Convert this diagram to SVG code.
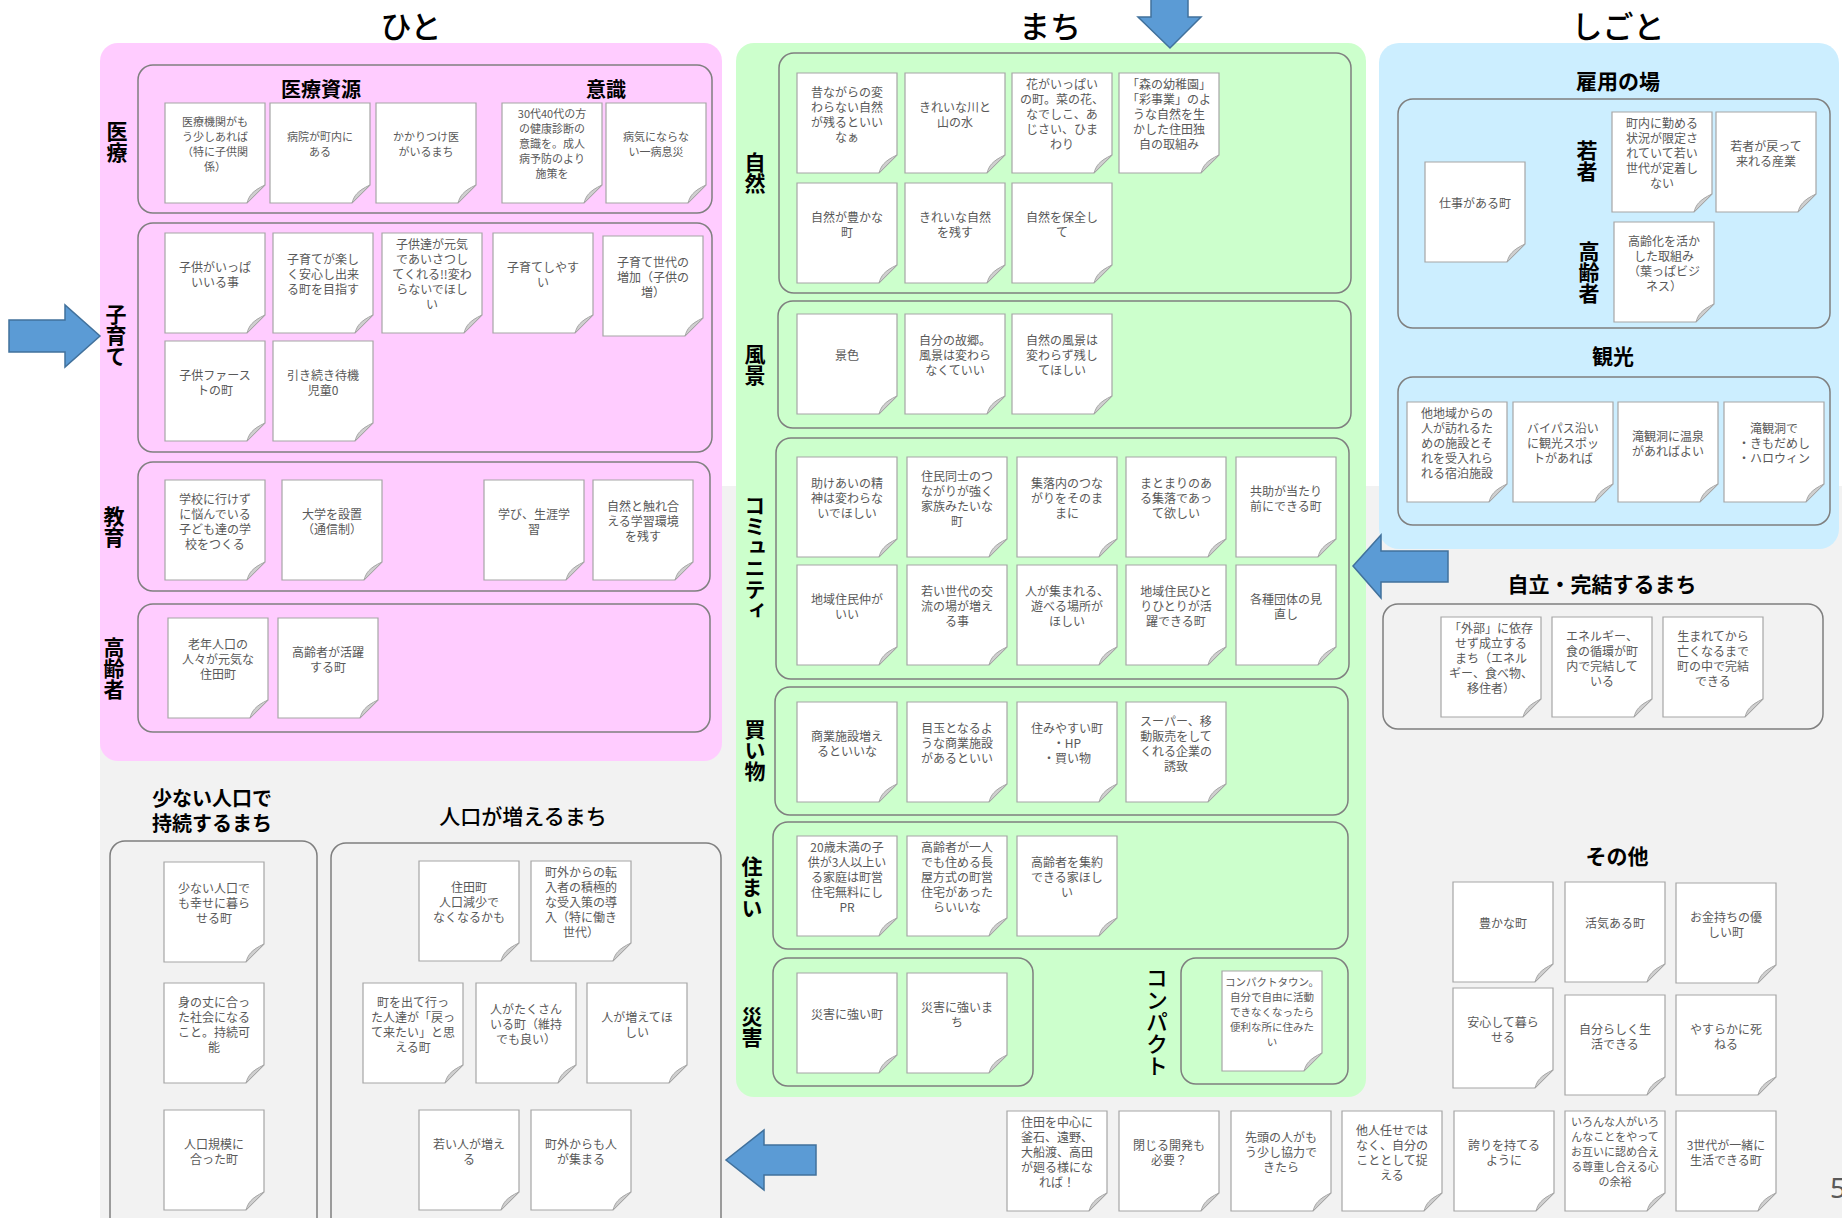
<svg xmlns="http://www.w3.org/2000/svg" width="1842" height="1218" viewBox="0 0 1842 1218">
<style>
.cb{fill:#fff;stroke:#a6a6a6;stroke-width:1.2}
.cf{fill:#cfcfcf;stroke:#a6a6a6;stroke-width:1}
.ct{font-family:"Noto Sans CJK JP","Noto Sans",sans-serif;font-size:12px;fill:#595959;text-anchor:middle;dominant-baseline:central}
.s11{font-size:11px}
.s10{font-size:10.5px}
.box{fill:none;stroke:#7f7f7f;stroke-width:1.5}
.lbl{font-family:"Noto Sans CJK JP","Noto Sans",sans-serif;font-weight:bold;font-size:21px;fill:#000;text-anchor:middle;dominant-baseline:central}
.vl{writing-mode:vertical-rl}
.ttl{font-family:"Noto Sans CJK JP","Noto Sans",sans-serif;font-size:31px;font-weight:500;fill:#000;text-anchor:middle;dominant-baseline:central}
.arr{fill:#5b9bd5;stroke:#41719c;stroke-width:1.5}
</style>
<defs>
<g id="card"><path class="cb" d="M0,0H100V82L82,100H0Z"/><path class="cf" d="M100,82L82,100C84,93 87,88 100,82Z"/></g>
</defs>
<rect width="1842" height="1218" fill="#fff"/>
<rect x="100" y="486" width="1742" height="732" fill="#f2f2f2"/>
<rect x="100" y="43" width="622" height="718" rx="18" fill="#ffccff"/>
<rect x="736" y="43" width="630" height="1054" rx="18" fill="#ccffcc"/>
<rect x="1379" y="43" width="460" height="506" rx="20" fill="#cceeff"/>

<text class="ttl" x="411" y="24">ひと</text>
<text class="ttl" x="1050" y="24">まち</text>
<text class="ttl" x="1618" y="24">しごと</text>

<g id="containers">
<rect class="box" x="138" y="65" width="574" height="148" rx="15"/>
<rect class="box" x="138" y="223" width="574" height="229" rx="15"/>
<rect class="box" x="138" y="462" width="572" height="129" rx="15"/>
<rect class="box" x="138" y="604" width="572" height="128" rx="15"/>
<rect class="box" x="779" y="53" width="572" height="240" rx="15"/>
<rect class="box" x="778" y="301" width="573" height="127" rx="15"/>
<rect class="box" x="776" y="438" width="573" height="241" rx="15"/>
<rect class="box" x="775" y="687" width="573" height="128" rx="15"/>
<rect class="box" x="773" y="822" width="575" height="127" rx="15"/>
<rect class="box" x="773" y="958" width="260" height="128" rx="15"/>
<rect class="box" x="1181" y="958" width="167" height="126" rx="15"/>
<rect class="box" x="1398" y="99" width="432" height="229" rx="15"/>
<rect class="box" x="1398" y="377" width="432" height="148" rx="15"/>
<rect class="box" x="1383" y="604" width="440" height="125" rx="15"/>
<rect class="box" x="110" y="841" width="207" height="420" rx="15"/>
<rect class="box" x="331" y="843" width="390" height="420" rx="15"/>
</g>

<g id="labels">
<text class="lbl" x="321" y="88" style="font-size:20px">医療資源</text>
<text class="lbl" x="606" y="88" style="font-size:20px">意識</text>
<text class="lbl vl" x="117" y="142">医療</text>
<text class="lbl vl" x="116" y="335">子育て</text>
<text class="lbl vl" x="114" y="527">教育</text>
<text class="lbl vl" x="114" y="668">高齢者</text>
<text class="lbl vl" x="755" y="173">自然</text>
<text class="lbl vl" x="755" y="365">風景</text>
<text class="lbl vl" x="755" y="558">コミュニティ</text>
<text class="lbl vl" x="755" y="750">買い物</text>
<text class="lbl vl" x="752" y="887">住まい</text>
<text class="lbl vl" x="752" y="1027">災害</text>
<text class="lbl vl" x="1157" y="1022" style="font-weight:500;font-size:22px">コンパクト</text>
<text class="lbl" x="1618" y="80">雇用の場</text>
<text class="lbl vl" x="1587" y="161">若者</text>
<text class="lbl vl" x="1589" y="272">高齢者</text>
<text class="lbl" x="1613" y="355">観光</text>
<text class="lbl" x="1602" y="583">自立・完結するまち</text>
<text class="lbl" x="1617" y="855">その他</text>
<text class="lbl" y="797" style="font-size:20px"><tspan x="212">少ない人口で</tspan><tspan x="212" dy="25">持続するまち</tspan></text>
<text class="lbl" x="523" y="815" style="font-weight:500">人口が増えるまち</text>
</g>

<g id="connectors">
<path class="arr" d="M9,320H65V305L100,336L65,367V352H9Z"/>
<path class="arr" d="M1151,-2H1188V17H1201L1170,48L1138,17H1151Z"/>
<path class="arr" d="M1448,551H1381V535L1353,566L1381,598V582H1448Z"/>
<path class="arr" d="M816,1145H764V1130L726,1160L764,1190V1175H816Z"/>
</g>

<!-- 医療 -->
<g id="n-iryo1"><use href="#card" x="165" y="103"/><text class="ct s11" y="120.5"><tspan x="215">医療機関がも</tspan><tspan x="215" dy="15">う少しあれば</tspan><tspan x="215" dy="15">（特に子供関</tspan><tspan x="215" dy="15">係）</tspan></text></g>
<g id="n-iryo2"><use href="#card" x="270" y="103"/><text class="ct s11" y="135.5"><tspan x="320">病院が町内に</tspan><tspan x="320" dy="15">ある</tspan></text></g>
<g id="n-iryo3"><use href="#card" x="376" y="103"/><text class="ct s11" y="135.5"><tspan x="426">かかりつけ医</tspan><tspan x="426" dy="15">がいるまち</tspan></text></g>
<g id="n-iryo4"><use href="#card" x="502" y="103"/><text class="ct s11" y="113"><tspan x="552">30代40代の方</tspan><tspan x="552" dy="15">の健康診断の</tspan><tspan x="552" dy="15">意識を。成人</tspan><tspan x="552" dy="15">病予防のより</tspan><tspan x="552" dy="15">施策を</tspan></text></g>
<g id="n-iryo5"><use href="#card" x="606" y="103"/><text class="ct s11" y="135.5"><tspan x="656">病気にならな</tspan><tspan x="656" dy="15">い一病息災</tspan></text></g>

<!-- 子育て -->
<g id="n-ko1"><use href="#card" x="165" y="233"/><text class="ct" y="265.5"><tspan x="215">子供がいっぱ</tspan><tspan x="215" dy="15">いいる事</tspan></text></g>
<g id="n-ko2"><use href="#card" x="273" y="233"/><text class="ct" y="258"><tspan x="323">子育てが楽し</tspan><tspan x="323" dy="15">く安心し出来</tspan><tspan x="323" dy="15">る町を目指す</tspan></text></g>
<g id="n-ko3"><use href="#card" x="382" y="233"/><text class="ct" y="243"><tspan x="432">子供達が元気</tspan><tspan x="432" dy="15">であいさつし</tspan><tspan x="432" dy="15">てくれる!!変わ</tspan><tspan x="432" dy="15">らないでほし</tspan><tspan x="432" dy="15">い</tspan></text></g>
<g id="n-ko4"><use href="#card" x="493" y="233"/><text class="ct" y="265.5"><tspan x="543">子育てしやす</tspan><tspan x="543" dy="15">い</tspan></text></g>
<g id="n-ko5"><use href="#card" x="603" y="236"/><text class="ct" y="261"><tspan x="653">子育て世代の</tspan><tspan x="653" dy="15">増加（子供の</tspan><tspan x="653" dy="15">増）</tspan></text></g>
<g id="n-ko6"><use href="#card" x="165" y="341"/><text class="ct" y="373.5"><tspan x="215">子供ファース</tspan><tspan x="215" dy="15">トの町</tspan></text></g>
<g id="n-ko7"><use href="#card" x="273" y="341"/><text class="ct" y="373.5"><tspan x="323">引き続き待機</tspan><tspan x="323" dy="15">児童0</tspan></text></g>

<!-- 教育 -->
<g id="n-ed1"><use href="#card" x="165" y="480"/><text class="ct" y="497.5"><tspan x="215">学校に行けず</tspan><tspan x="215" dy="15">に悩んでいる</tspan><tspan x="215" dy="15">子ども達の学</tspan><tspan x="215" dy="15">校をつくる</tspan></text></g>
<g id="n-ed2"><use href="#card" x="282" y="480"/><text class="ct" y="512.5"><tspan x="332">大学を設置</tspan><tspan x="332" dy="15">（通信制）</tspan></text></g>
<g id="n-ed3"><use href="#card" x="484" y="480"/><text class="ct" y="512.5"><tspan x="534">学び、生涯学</tspan><tspan x="534" dy="15">習</tspan></text></g>
<g id="n-ed4"><use href="#card" x="593" y="480"/><text class="ct" y="505"><tspan x="643">自然と触れ合</tspan><tspan x="643" dy="15">える学習環境</tspan><tspan x="643" dy="15">を残す</tspan></text></g>

<!-- 高齢者 -->
<g id="n-ko-rei1"><use href="#card" x="168" y="618"/><text class="ct" y="643"><tspan x="218">老年人口の</tspan><tspan x="218" dy="15">人々が元気な</tspan><tspan x="218" dy="15">住田町</tspan></text></g>
<g id="n-ko-rei2"><use href="#card" x="278" y="618"/><text class="ct" y="650.5"><tspan x="328">高齢者が活躍</tspan><tspan x="328" dy="15">する町</tspan></text></g>

<!-- 自然 -->
<g id="n-sh1"><use href="#card" x="797" y="73"/><text class="ct" y="90.5"><tspan x="847">昔ながらの変</tspan><tspan x="847" dy="15">わらない自然</tspan><tspan x="847" dy="15">が残るといい</tspan><tspan x="847" dy="15">なぁ</tspan></text></g>
<g id="n-sh2"><use href="#card" x="905" y="73"/><text class="ct" y="105.5"><tspan x="955">きれいな川と</tspan><tspan x="955" dy="15">山の水</tspan></text></g>
<g id="n-sh3"><use href="#card" x="1012" y="73"/><text class="ct" y="83"><tspan x="1062">花がいっぱい</tspan><tspan x="1062" dy="15">の町。菜の花、</tspan><tspan x="1062" dy="15">なでしこ、あ</tspan><tspan x="1062" dy="15">じさい、ひま</tspan><tspan x="1062" dy="15">わり</tspan></text></g>
<g id="n-sh4"><use href="#card" x="1119" y="73"/><text class="ct" y="83"><tspan x="1169">「森の幼稚園」</tspan><tspan x="1169" dy="15">「彩事業」のよ</tspan><tspan x="1169" dy="15">うな自然を生</tspan><tspan x="1169" dy="15">かした住田独</tspan><tspan x="1169" dy="15">自の取組み</tspan></text></g>
<g id="n-sh5"><use href="#card" x="797" y="183"/><text class="ct" y="215.5"><tspan x="847">自然が豊かな</tspan><tspan x="847" dy="15">町</tspan></text></g>
<g id="n-sh6"><use href="#card" x="905" y="183"/><text class="ct" y="215.5"><tspan x="955">きれいな自然</tspan><tspan x="955" dy="15">を残す</tspan></text></g>
<g id="n-sh7"><use href="#card" x="1012" y="183"/><text class="ct" y="215.5"><tspan x="1062">自然を保全し</tspan><tspan x="1062" dy="15">て</tspan></text></g>

<!-- 風景 -->
<g id="n-fu1"><use href="#card" x="797" y="314"/><text class="ct" x="847" y="354">景色</text></g>
<g id="n-fu2"><use href="#card" x="905" y="314"/><text class="ct" y="339"><tspan x="955">自分の故郷。</tspan><tspan x="955" dy="15">風景は変わら</tspan><tspan x="955" dy="15">なくていい</tspan></text></g>
<g id="n-fu3"><use href="#card" x="1012" y="314"/><text class="ct" y="339"><tspan x="1062">自然の風景は</tspan><tspan x="1062" dy="15">変わらず残し</tspan><tspan x="1062" dy="15">てほしい</tspan></text></g>

<!-- コミュニティ -->
<g id="n-cm1"><use href="#card" x="797" y="457"/><text class="ct" y="482"><tspan x="847">助けあいの精</tspan><tspan x="847" dy="15">神は変わらな</tspan><tspan x="847" dy="15">いでほしい</tspan></text></g>
<g id="n-cm2"><use href="#card" x="907" y="457"/><text class="ct" y="474.5"><tspan x="957">住民同士のつ</tspan><tspan x="957" dy="15">ながりが強く</tspan><tspan x="957" dy="15">家族みたいな</tspan><tspan x="957" dy="15">町</tspan></text></g>
<g id="n-cm3"><use href="#card" x="1017" y="457"/><text class="ct" y="482"><tspan x="1067">集落内のつな</tspan><tspan x="1067" dy="15">がりをそのま</tspan><tspan x="1067" dy="15">まに</tspan></text></g>
<g id="n-cm4"><use href="#card" x="1126" y="457"/><text class="ct" y="482"><tspan x="1176">まとまりのあ</tspan><tspan x="1176" dy="15">る集落であっ</tspan><tspan x="1176" dy="15">て欲しい</tspan></text></g>
<g id="n-cm5"><use href="#card" x="1236" y="457"/><text class="ct" y="489.5"><tspan x="1286">共助が当たり</tspan><tspan x="1286" dy="15">前にできる町</tspan></text></g>
<g id="n-cm6"><use href="#card" x="797" y="565"/><text class="ct" y="597.5"><tspan x="847">地域住民仲が</tspan><tspan x="847" dy="15">いい</tspan></text></g>
<g id="n-cm7"><use href="#card" x="907" y="565"/><text class="ct" y="590"><tspan x="957">若い世代の交</tspan><tspan x="957" dy="15">流の場が増え</tspan><tspan x="957" dy="15">る事</tspan></text></g>
<g id="n-cm8"><use href="#card" x="1017" y="565"/><text class="ct" y="590"><tspan x="1067">人が集まれる、</tspan><tspan x="1067" dy="15">遊べる場所が</tspan><tspan x="1067" dy="15">ほしい</tspan></text></g>
<g id="n-cm9"><use href="#card" x="1126" y="565"/><text class="ct" y="590"><tspan x="1176">地域住民ひと</tspan><tspan x="1176" dy="15">りひとりが活</tspan><tspan x="1176" dy="15">躍できる町</tspan></text></g>
<g id="n-cm10"><use href="#card" x="1236" y="565"/><text class="ct" y="597.5"><tspan x="1286">各種団体の見</tspan><tspan x="1286" dy="15">直し</tspan></text></g>

<!-- 買い物 -->
<g id="n-ka1"><use href="#card" x="797" y="702"/><text class="ct" y="734.5"><tspan x="847">商業施設増え</tspan><tspan x="847" dy="15">るといいな</tspan></text></g>
<g id="n-ka2"><use href="#card" x="907" y="702"/><text class="ct" y="727"><tspan x="957">目玉となるよ</tspan><tspan x="957" dy="15">うな商業施設</tspan><tspan x="957" dy="15">があるといい</tspan></text></g>
<g id="n-ka3"><use href="#card" x="1017" y="702"/><text class="ct" y="727"><tspan x="1067">住みやすい町</tspan><tspan x="1067" dy="15">・HP</tspan><tspan x="1067" dy="15">・買い物</tspan></text></g>
<g id="n-ka4"><use href="#card" x="1126" y="702"/><text class="ct" y="719.5"><tspan x="1176">スーパー、移</tspan><tspan x="1176" dy="15">動販売をして</tspan><tspan x="1176" dy="15">くれる企業の</tspan><tspan x="1176" dy="15">誘致</tspan></text></g>

<!-- 住まい -->
<g id="n-su1"><use href="#card" x="797" y="836"/><text class="ct" y="846"><tspan x="847">20歳未満の子</tspan><tspan x="847" dy="15">供が3人以上い</tspan><tspan x="847" dy="15">る家庭は町営</tspan><tspan x="847" dy="15">住宅無料にし</tspan><tspan x="847" dy="15">PR</tspan></text></g>
<g id="n-su2"><use href="#card" x="907" y="836"/><text class="ct" y="846"><tspan x="957">高齢者が一人</tspan><tspan x="957" dy="15">でも住める長</tspan><tspan x="957" dy="15">屋方式の町営</tspan><tspan x="957" dy="15">住宅があった</tspan><tspan x="957" dy="15">らいいな</tspan></text></g>
<g id="n-su3"><use href="#card" x="1017" y="836"/><text class="ct" y="861"><tspan x="1067">高齢者を集約</tspan><tspan x="1067" dy="15">できる家ほし</tspan><tspan x="1067" dy="15">い</tspan></text></g>

<!-- 災害 / コンパクト -->
<g id="n-sa1"><use href="#card" x="797" y="973"/><text class="ct" x="847" y="1013">災害に強い町</text></g>
<g id="n-sa2"><use href="#card" x="907" y="973"/><text class="ct" y="1005.5"><tspan x="957">災害に強いま</tspan><tspan x="957" dy="15">ち</tspan></text></g>
<g id="n-cp1"><use href="#card" x="1222" y="971"/><text class="ct s10" y="981"><tspan x="1272">コンパクトタウン。</tspan><tspan x="1272" dy="15">自分で自由に活動</tspan><tspan x="1272" dy="15">できなくなったら</tspan><tspan x="1272" dy="15">便利な所に住みた</tspan><tspan x="1272" dy="15">い</tspan></text></g>

<!-- 雇用の場 -->
<g id="n-ko-yo1"><use href="#card" x="1425" y="162"/><text class="ct" x="1475" y="202">仕事がある町</text></g>
<g id="n-ko-yo2"><use href="#card" x="1612" y="112"/><text class="ct" y="122"><tspan x="1662">町内に勤める</tspan><tspan x="1662" dy="15">状況が限定さ</tspan><tspan x="1662" dy="15">れていて若い</tspan><tspan x="1662" dy="15">世代が定着し</tspan><tspan x="1662" dy="15">ない</tspan></text></g>
<g id="n-ko-yo3"><use href="#card" x="1716" y="112"/><text class="ct" y="144.5"><tspan x="1766">若者が戻って</tspan><tspan x="1766" dy="15">来れる産業</tspan></text></g>
<g id="n-ko-yo4"><use href="#card" x="1614" y="222"/><text class="ct" y="239.5"><tspan x="1664">高齢化を活か</tspan><tspan x="1664" dy="15">した取組み</tspan><tspan x="1664" dy="15">（葉っぱビジ</tspan><tspan x="1664" dy="15">ネス）</tspan></text></g>

<!-- 観光 -->
<g id="n-kk1"><use href="#card" x="1407" y="402"/><text class="ct" y="412"><tspan x="1457">他地域からの</tspan><tspan x="1457" dy="15">人が訪れるた</tspan><tspan x="1457" dy="15">めの施設とそ</tspan><tspan x="1457" dy="15">れを受入れら</tspan><tspan x="1457" dy="15">れる宿泊施設</tspan></text></g>
<g id="n-kk2"><use href="#card" x="1513" y="402"/><text class="ct" y="427"><tspan x="1563">バイパス沿い</tspan><tspan x="1563" dy="15">に観光スポッ</tspan><tspan x="1563" dy="15">トがあれば</tspan></text></g>
<g id="n-kk3"><use href="#card" x="1618" y="402"/><text class="ct" y="434.5"><tspan x="1668">滝観洞に温泉</tspan><tspan x="1668" dy="15">があればよい</tspan></text></g>
<g id="n-kk4"><use href="#card" x="1724" y="402"/><text class="ct" y="427"><tspan x="1774">滝観洞で</tspan><tspan x="1774" dy="15">・きもだめし</tspan><tspan x="1774" dy="15">・ハロウィン</tspan></text></g>

<!-- 自立・完結 -->
<g id="n-ji1"><use href="#card" x="1441" y="617"/><text class="ct" y="627"><tspan x="1491">「外部」に依存</tspan><tspan x="1491" dy="15">せず成立する</tspan><tspan x="1491" dy="15">まち（エネル</tspan><tspan x="1491" dy="15">ギー、食べ物、</tspan><tspan x="1491" dy="15">移住者）</tspan></text></g>
<g id="n-ji2"><use href="#card" x="1552" y="617"/><text class="ct" y="634.5"><tspan x="1602">エネルギー、</tspan><tspan x="1602" dy="15">食の循環が町</tspan><tspan x="1602" dy="15">内で完結して</tspan><tspan x="1602" dy="15">いる</tspan></text></g>
<g id="n-ji3"><use href="#card" x="1663" y="617"/><text class="ct" y="634.5"><tspan x="1713">生まれてから</tspan><tspan x="1713" dy="15">亡くなるまで</tspan><tspan x="1713" dy="15">町の中で完結</tspan><tspan x="1713" dy="15">できる</tspan></text></g>

<!-- その他 -->
<g id="n-so1"><use href="#card" x="1453" y="882"/><text class="ct" x="1503" y="922">豊かな町</text></g>
<g id="n-so2"><use href="#card" x="1565" y="882"/><text class="ct" x="1615" y="922">活気ある町</text></g>
<g id="n-so3"><use href="#card" x="1676" y="883"/><text class="ct" y="915.5"><tspan x="1726">お金持ちの優</tspan><tspan x="1726" dy="15">しい町</tspan></text></g>
<g id="n-so4"><use href="#card" x="1453" y="988"/><text class="ct" y="1020.5"><tspan x="1503">安心して暮ら</tspan><tspan x="1503" dy="15">せる</tspan></text></g>
<g id="n-so5"><use href="#card" x="1565" y="995"/><text class="ct" y="1027.5"><tspan x="1615">自分らしく生</tspan><tspan x="1615" dy="15">活できる</tspan></text></g>
<g id="n-so6"><use href="#card" x="1676" y="995"/><text class="ct" y="1027.5"><tspan x="1726">やすらかに死</tspan><tspan x="1726" dy="15">ねる</tspan></text></g>

<!-- 下段 -->
<g id="n-bt1"><use href="#card" x="1007" y="1111"/><text class="ct" y="1121"><tspan x="1057">住田を中心に</tspan><tspan x="1057" dy="15">釜石、遠野、</tspan><tspan x="1057" dy="15">大船渡、高田</tspan><tspan x="1057" dy="15">が廻る様にな</tspan><tspan x="1057" dy="15">れば！</tspan></text></g>
<g id="n-bt2"><use href="#card" x="1119" y="1111"/><text class="ct" y="1143.5"><tspan x="1169">閉じる開発も</tspan><tspan x="1169" dy="15">必要？</tspan></text></g>
<g id="n-bt3"><use href="#card" x="1231" y="1111"/><text class="ct" y="1136"><tspan x="1281">先頭の人がも</tspan><tspan x="1281" dy="15">う少し協力で</tspan><tspan x="1281" dy="15">きたら</tspan></text></g>
<g id="n-bt4"><use href="#card" x="1342" y="1111"/><text class="ct" y="1128.5"><tspan x="1392">他人任せでは</tspan><tspan x="1392" dy="15">なく、自分の</tspan><tspan x="1392" dy="15">こととして捉</tspan><tspan x="1392" dy="15">える</tspan></text></g>
<g id="n-bt5"><use href="#card" x="1454" y="1111"/><text class="ct" y="1143.5"><tspan x="1504">誇りを持てる</tspan><tspan x="1504" dy="15">ように</tspan></text></g>
<g id="n-bt6"><use href="#card" x="1565" y="1111"/><text class="ct s11" y="1121"><tspan x="1615">いろんな人がいろ</tspan><tspan x="1615" dy="15">んなことをやって</tspan><tspan x="1615" dy="15">お互いに認め合え</tspan><tspan x="1615" dy="15">る尊重し合える心</tspan><tspan x="1615" dy="15">の余裕</tspan></text></g>
<g id="n-bt7"><use href="#card" x="1676" y="1111"/><text class="ct" y="1143.5"><tspan x="1726">3世代が一緒に</tspan><tspan x="1726" dy="15">生活できる町</tspan></text></g>

<!-- 少ない人口で持続するまち -->
<g id="n-sj1"><use href="#card" x="164" y="862"/><text class="ct" y="887"><tspan x="214">少ない人口で</tspan><tspan x="214" dy="15">も幸せに暮ら</tspan><tspan x="214" dy="15">せる町</tspan></text></g>
<g id="n-sj2"><use href="#card" x="164" y="983"/><text class="ct" y="1000.5"><tspan x="214">身の丈に合っ</tspan><tspan x="214" dy="15">た社会になる</tspan><tspan x="214" dy="15">こと。持続可</tspan><tspan x="214" dy="15">能</tspan></text></g>
<g id="n-sj3"><use href="#card" x="164" y="1110"/><text class="ct" y="1142.5"><tspan x="214">人口規模に</tspan><tspan x="214" dy="15">合った町</tspan></text></g>

<!-- 人口が増えるまち -->
<g id="n-jz1"><use href="#card" x="419" y="861"/><text class="ct" y="886"><tspan x="469">住田町</tspan><tspan x="469" dy="15">人口減少で</tspan><tspan x="469" dy="15">なくなるかも</tspan></text></g>
<g id="n-jz2"><use href="#card" x="531" y="861"/><text class="ct" y="871"><tspan x="581">町外からの転</tspan><tspan x="581" dy="15">入者の積極的</tspan><tspan x="581" dy="15">な受入策の導</tspan><tspan x="581" dy="15">入（特に働き</tspan><tspan x="581" dy="15">世代）</tspan></text></g>
<g id="n-jz3"><use href="#card" x="363" y="983"/><text class="ct" y="1000.5"><tspan x="413">町を出て行っ</tspan><tspan x="413" dy="15">た人達が「戻っ</tspan><tspan x="413" dy="15">て来たい」と思</tspan><tspan x="413" dy="15">える町</tspan></text></g>
<g id="n-jz4"><use href="#card" x="476" y="983"/><text class="ct" y="1008"><tspan x="526">人がたくさん</tspan><tspan x="526" dy="15">いる町（維持</tspan><tspan x="526" dy="15">でも良い）</tspan></text></g>
<g id="n-jz5"><use href="#card" x="587" y="983"/><text class="ct" y="1015.5"><tspan x="637">人が増えてほ</tspan><tspan x="637" dy="15">しい</tspan></text></g>
<g id="n-jz6"><use href="#card" x="419" y="1110"/><text class="ct" y="1142.5"><tspan x="469">若い人が増え</tspan><tspan x="469" dy="15">る</tspan></text></g>
<g id="n-jz7"><use href="#card" x="531" y="1110"/><text class="ct" y="1142.5"><tspan x="581">町外からも人</tspan><tspan x="581" dy="15">が集まる</tspan></text></g>

<text x="1830" y="1187" style="font-family:'Noto Sans',sans-serif;font-size:28px;fill:#595959;dominant-baseline:central">5</text>
</svg>
